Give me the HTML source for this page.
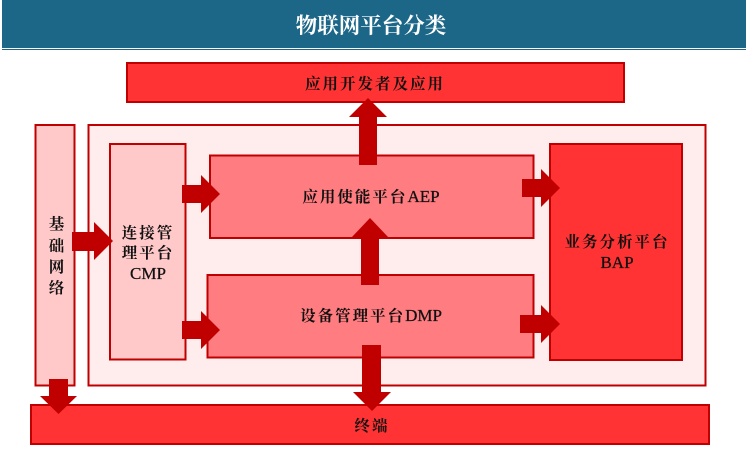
<!DOCTYPE html>
<html><head><meta charset="utf-8"><style>
html,body{margin:0;padding:0;background:#fff}
svg{display:block}
text{font-family:"Noto Serif CJK SC","Liberation Serif",serif;fill:#111;text-anchor:middle;font-size:15.5px;font-weight:700}
.l{font-family:"Liberation Serif",serif;font-size:17px;font-weight:400;letter-spacing:0;stroke:#111;stroke-width:.25px}
</style></head><body>
<svg width="746" height="452" viewBox="0 0 746 452" xmlns="http://www.w3.org/2000/svg">
<rect width="746" height="452" fill="#fff"/>
<rect x="2" y="0" width="744" height="48" fill="#1c6688"/>
<rect x="2" y="49" width="744" height="1" fill="#1c6688"/>
<text x="371" y="33" style="font-size:21.500px;fill:#fff">物联网平台分类</text>
<g stroke="#c00000" stroke-width="2">
<rect x="127" y="63" width="497" height="39" fill="#ff3333"/>
<rect x="35.500" y="125" width="39" height="260.500" fill="#ffc9c9"/>
<rect x="88.500" y="125" width="617" height="260.500" fill="#ffecec"/>
<rect x="110" y="144" width="75.500" height="215.500" fill="#ffc9c9"/>
<rect x="210" y="155.500" width="323.500" height="82.500" fill="#ff7c80"/>
<rect x="207.500" y="275" width="326" height="82.500" fill="#ff7c80"/>
<rect x="550" y="144" width="132" height="216" fill="#ff3333"/>
<rect x="31" y="405" width="678" height="39" fill="#ff3333"/>
</g>
<g fill="#c00000">
<polygon points="359,165 359,117 349,117 368,98 387,117 377,117 377,165"/>
<polygon points="361,285 361,238 351,238 370,218 389,238 379,238 379,285"/>
<polygon points="362,345 381,345 381,392 391,392 372,411 353,392 362,392"/>
<polygon points="49,379 68,379 68,396 77,396 58.500,414 40,396 49,396"/>
<polygon points="72,232 94,232 94,222 113,241 94,260 94,251 72,251"/>
<polygon points="182,185 201,185 201,175 220,194 201,213 201,203 182,203"/>
<polygon points="182,321 201,321 201,311 220,330 201,349 201,339 182,339"/>
<polygon points="522,179 541,179 541,169 560,188 541,207 541,197 522,197"/>
<polygon points="520,315 541,315 541,305 560,324 541,343 541,333 520,333"/>
</g>
<text x="375" y="89" letter-spacing="2">应用开发者及应用</text>
<text x="371" y="202" letter-spacing="2">应用使能平台<tspan class="l">AEP</tspan></text>
<text x="371" y="321" letter-spacing="2">设备管理平台<tspan class="l">DMP</tspan></text>
<text x="617" y="247" letter-spacing="2">业务分析平台</text>
<text x="617" y="268" class="l">BAP</text>
<text x="148" y="238" letter-spacing="2">连接管</text>
<text x="148" y="258" letter-spacing="2">理平台</text>
<text x="148" y="279" class="l">CMP</text>
<text x="56.500" y="229">基</text>
<text x="56.500" y="251">础</text>
<text x="56.500" y="272">网</text>
<text x="56.500" y="293">络</text>
<text x="372" y="431" letter-spacing="2">终端</text>
</svg>
</body></html>
